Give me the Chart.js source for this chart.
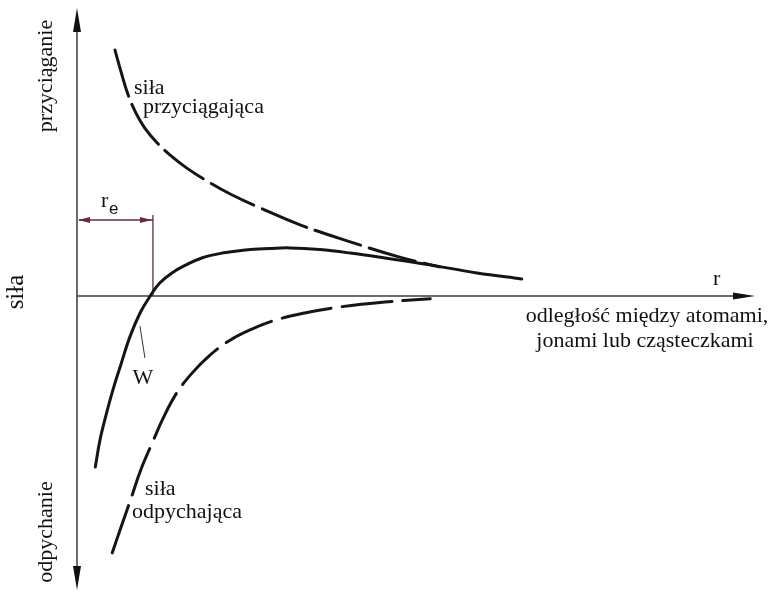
<!DOCTYPE html>
<html lang="pl">
<head>
<meta charset="utf-8">
<title>Siła a odległość między cząstkami</title>
<script src="https://cdn.jsdelivr.net/npm/chart.js@4.4.1/dist/chart.umd.min.js"></script>
<style>
    html, body { margin: 0; padding: 0; background: #fff; }
    #wrap { width: 771px; height: 593px; }
</style>
</head>
<body>
<div id="wrap"><canvas id="sily"></canvas></div>
<script>
// wartości (jednostki umowne)
let rPrzyciagania = [0.56, 0.65, 0.75, 0.87, 1.00, 1.17, 1.37, 1.62, 1.92, 2.26, 2.70, 3.29, 4.03, 4.76, 5.35]
let silaPrzyciagania = [8.54, 7.78, 7.01, 6.35, 5.83, 5.35, 4.90, 4.44, 3.99, 3.54, 3.06, 2.47, 1.88, 1.35, 1.01]

let rWypadkowa = [0.27, 0.34, 0.43, 0.53, 0.65, 0.78, 0.93, 1.08, 1.22, 1.40, 1.61, 1.84, 2.14, 2.48, 2.85, 3.14, 3.58, 4.03, 4.54, 5.21, 5.90, 6.56]
let silaWypadkowa = [-5.94, -4.99, -4.12, -3.26, -2.36, -1.42, -0.59, 0, 0.45, 0.80, 1.08, 1.32, 1.49, 1.60, 1.65, 1.67, 1.61, 1.49, 1.32, 1.08, 0.80, 0.59]

let rOdpychania = [0.52, 0.65, 0.80, 0.94, 1.11, 1.28, 1.47, 1.70, 1.95, 2.24, 2.58, 2.94, 3.36, 3.88, 4.54, 5.21]
let silaOdpychania = [-8.92, -8.02, -7.01, -6.04, -5.10, -4.20, -3.37, -2.67, -2.08, -1.56, -1.15, -0.83, -0.59, -0.38, -0.21, -0.10]

// odległość równowagowa r_e
let rE = 1.12

function punkty(xs, ys) {
    return xs.map((x, i) => ({ x: x, y: ys[i] }))
}

const serif = '"Liberation Serif", "DejaVu Serif", serif'

function grot(ctx, x1, y1, x2, y2, dl, pol) {
    // grot strzałki o wierzchołku w (x2, y2)
    let kat = Math.atan2(y2 - y1, x2 - x1)
    ctx.beginPath()
    ctx.moveTo(x2, y2)
    ctx.lineTo(x2 - dl * Math.cos(kat) + pol * Math.sin(kat), y2 - dl * Math.sin(kat) - pol * Math.cos(kat))
    ctx.lineTo(x2 - dl * Math.cos(kat) - pol * Math.sin(kat), y2 - dl * Math.sin(kat) + pol * Math.cos(kat))
    ctx.closePath()
    ctx.fill()
}

const rysunek = {
    id: 'rysunek',
    beforeDatasetsDraw(chart) {
        const ctx = chart.ctx
        const sx = chart.scales.x, sy = chart.scales.y
        const a = chart.chartArea
        const x0 = sx.getPixelForValue(0)
        const y0 = sy.getPixelForValue(0)
        ctx.save()
        // osie
        ctx.strokeStyle = '#3c3c3c'
        ctx.lineWidth = 1.5
        ctx.beginPath()
        ctx.moveTo(x0, a.top + 10)
        ctx.lineTo(x0, a.bottom - 10)
        ctx.moveTo(x0, y0)
        ctx.lineTo(a.right - 10, y0)
        ctx.stroke()
        ctx.fillStyle = '#111'
        grot(ctx, x0, a.top + 30, x0, a.top, 24, 4)
        grot(ctx, x0, a.bottom - 30, x0, a.bottom, 24, 4)
        grot(ctx, a.right - 30, y0, a.right, y0, 22, 3.5)

        // r_e
        const xe = sx.getPixelForValue(rE)
        const yk = y0 - 76
        ctx.strokeStyle = '#6a2a3c'
        ctx.fillStyle = '#6a2a3c'
        ctx.lineWidth = 1.3
        ctx.beginPath()
        ctx.moveTo(xe, y0)
        ctx.lineTo(xe, yk - 5)
        ctx.moveTo(x0 + 2, yk)
        ctx.lineTo(xe, yk)
        ctx.stroke()
        grot(ctx, xe - 20, yk, x0 + 1, yk, 12, 3)
        grot(ctx, x0 + 20, yk, xe - 1, yk, 12, 3)

        // kreska przy W
        ctx.strokeStyle = '#333'
        ctx.lineWidth = 1
        ctx.beginPath()
        ctx.moveTo(xe - 13, y0 + 30)
        ctx.lineTo(xe - 8, y0 + 62)
        ctx.stroke()
        ctx.restore()
    },
    afterDatasetsDraw(chart) {
        const ctx = chart.ctx
        ctx.save()
        ctx.fillStyle = '#111'
        ctx.textBaseline = 'alphabetic'
        ctx.font = '22px ' + serif
        ctx.textAlign = 'left'
        ctx.fillText('siła', 134, 94)
        ctx.fillText('przyciągająca', 143, 113)
        ctx.fillText('siła', 145, 495)
        ctx.fillText('odpychająca', 132, 518)
        ctx.fillText('r', 713, 285)
        ctx.textAlign = 'center'
        ctx.fillText('W', 143, 384)
        ctx.fillText('odległość między atomami,', 647, 322)
        ctx.fillText('jonami lub cząsteczkami', 645, 347)

        ctx.textAlign = 'left'
        ctx.fillText('r', 101, 207)
        ctx.font = '17px "Liberation Sans", Arial, sans-serif'
        ctx.fillText('e', 109, 214)

        // opisy osi pionowej
        ctx.font = '22px ' + serif
        ctx.textAlign = 'center'
        let pionowo = [['przyciąganie', 52, 76], ['odpychanie', 52, 532]]
        pionowo.forEach(p => {
            ctx.save()
            ctx.translate(p[1], p[2])
            ctx.rotate(-Math.PI / 2)
            ctx.fillText(p[0], 0, 0)
            ctx.restore()
        })
        ctx.font = '25px ' + serif
        ctx.save()
        ctx.translate(23, 292)
        ctx.rotate(-Math.PI / 2)
        ctx.fillText('siła', 0, 0)
        ctx.restore()
        ctx.restore()
    }
}

const linia = {
    borderColor: '#151515',
    borderWidth: 3,
    pointRadius: 0,
    fill: false,
    tension: 0.4,
    borderCapStyle: 'round'
}

new Chart(document.getElementById('sily'), {
    type: 'line',
    data: {
        datasets: [
            Object.assign({ label: 'siła przyciągająca', data: punkty(rPrzyciagania, silaPrzyciagania), borderDash: [48, 9] }, linia),
            Object.assign({ label: 'siła wypadkowa', data: punkty(rWypadkowa, silaWypadkowa) }, linia),
            Object.assign({ label: 'siła odpychająca', data: punkty(rOdpychania, silaOdpychania), borderDash: [50, 11] }, linia)
        ]
    },
    options: {
        responsive: true,
        maintainAspectRatio: false,
        animation: false,
        layout: { padding: { left: 77, right: 16, top: 8, bottom: 3 } },
        scales: {
            x: { type: 'linear', min: 0, max: 10, display: false },
            y: { type: 'linear', min: -10.21, max: 10, display: false }
        },
        plugins: {
            legend: { display: false },
            tooltip: { enabled: false }
        }
    },
    plugins: [rysunek]
})
</script>
</body>
</html>
